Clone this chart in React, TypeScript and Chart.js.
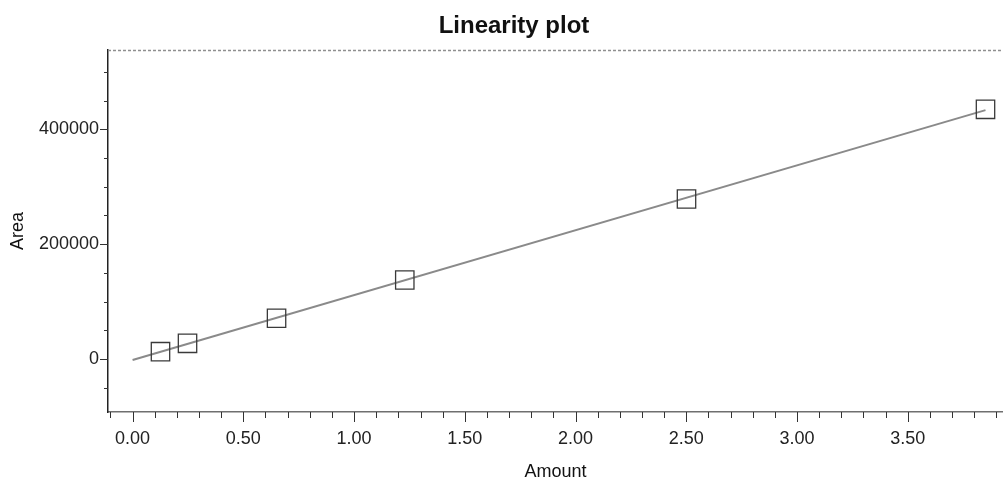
import React, { useEffect, useRef } from 'react';
import { Chart, registerables } from 'chart.js';

Chart.register(...registerables);

// ---- data ----
const TITLE = 'Linearity plot';
const X_TITLE = 'Amount';
const Y_TITLE = 'Area';

const amounts = [0.126, 0.248, 0.65, 1.229, 2.501, 3.851];
const areas = [12700, 27300, 70900, 137500, 278600, 434700];

// regression line end points (as drawn in the reference)
const fitAmounts = [0, 3.851];
const fitAreas = [-1800, 433300];

// axis ticks
const xMajorValues = [0, 0.5, 1, 1.5, 2, 2.5, 3, 3.5];
const xTickLabels = ['0.00', '0.50', '1.00', '1.50', '2.00', '2.50', '3.00', '3.50'];
const xMinorStep = 0.1;
const xTickFrom = -0.1;
const xTickCount = 41;

const yMajorValues = [0, 200000, 400000];
const yTickLabels = ['0', '200000', '400000'];
const yTickValues = [-50000, 0, 50000, 100000, 150000, 200000, 250000, 300000, 350000, 400000, 450000, 500000];

const X_MIN = -0.111;
const X_MAX = 3.93;
const Y_MIN = -92300;
const Y_MAX = 538000;

const FONT = '"Liberation Sans", Arial, Helvetica, sans-serif';

const xTickValues = Array.from({ length: xTickCount }, (_, i) =>
  Math.round((xTickFrom + i * xMinorStep) * 1000) / 1000
);

const majorIndex = (list: number[], v: number, tol: number) =>
  list.findIndex((m) => Math.abs(m - v) < tol);

const decorPlugin = {
  id: 'decor',
  afterDraw(chart: any) {
    const { ctx, chartArea: a, scales } = chart;
    const xs = scales.x;
    const ys = scales.y;
    ctx.save();
    // top frame line (dotted grey)
    ctx.strokeStyle = '#8f8f8f';
    ctx.lineWidth = 1.5;
    ctx.setLineDash([3, 2]);
    ctx.beginPath();
    ctx.moveTo(a.left, a.top + 0.5);
    ctx.lineTo(a.right, a.top + 0.5);
    ctx.stroke();
    ctx.setLineDash([]);

    // tick marks (major / minor)
    ctx.strokeStyle = '#333';
    ctx.lineWidth = 1;
    xs.ticks.forEach((t: any) => {
      const px = Math.round(xs.getPixelForValue(t.value)) + 0.5;
      const major = majorIndex(xMajorValues, t.value, 1e-6) >= 0;
      ctx.beginPath();
      ctx.moveTo(px, a.bottom);
      ctx.lineTo(px, a.bottom + (major ? 10 : 6));
      ctx.stroke();
    });
    ys.ticks.forEach((t: any) => {
      const py = Math.round(ys.getPixelForValue(t.value)) + 0.5;
      const major = majorIndex(yMajorValues, t.value, 1) >= 0;
      ctx.beginPath();
      ctx.moveTo(a.left, py);
      ctx.lineTo(a.left - (major ? 8 : 4), py);
      ctx.stroke();
    });

    // chart title
    ctx.fillStyle = '#111';
    ctx.font = `bold 24px ${FONT}`;
    ctx.textAlign = 'center';
    ctx.textBaseline = 'alphabetic';
    ctx.fillText(TITLE, 514, 33);
    ctx.restore();
  },
};

export default function App() {
  const ref = useRef<HTMLCanvasElement | null>(null);

  useEffect(() => {
    if (!ref.current) return;
    const chart = new Chart(ref.current, {
      type: 'scatter',
      data: {
        datasets: [
          {
            type: 'line',
            label: 'Fit',
            data: fitAmounts.map((x, i) => ({ x, y: fitAreas[i] })),
            borderColor: '#8a8a8a',
            borderWidth: 2,
            pointRadius: 0,
            fill: false,
            order: 2,
          } as any,
          {
            label: 'Standards',
            data: amounts.map((x, i) => ({ x, y: areas[i] })),
            pointStyle: 'rect',
            pointRadius: 13,
            pointHoverRadius: 13,
            borderColor: '#3a3a3a',
            backgroundColor: 'rgba(0,0,0,0)',
            borderWidth: 1.3,
            order: 1,
          },
        ],
      },
      options: {
        animation: false,
        responsive: false,
        layout: { autoPadding: false, padding: { top: 50, left: 0, right: 0, bottom: 0 } },
        plugins: {
          legend: { display: false },
          title: { display: false },
          tooltip: { enabled: false },
        },
        scales: {
          x: {
            type: 'linear',
            position: 'bottom',
            min: X_MIN,
            max: X_MAX,
            grid: { display: false, drawTicks: false },
            border: { display: true, color: '#6f6f6f', width: 1.5 },
            afterBuildTicks: (s: any) => {
              s.ticks = xTickValues.map((value) => ({ value }));
            },
            ticks: {
              autoSkip: false,
              maxRotation: 0,
              padding: 16,
              color: '#222',
              font: { family: FONT, size: 18 },
              callback: (v: any) => {
                const i = majorIndex(xMajorValues, Number(v), 1e-6);
                return i >= 0 ? xTickLabels[i] : '';
              },
            },
            title: {
              display: true,
              text: X_TITLE,
              color: '#111',
              font: { family: FONT, size: 18 },
              padding: { top: 0, bottom: 1 },
            },
            afterFit: (s: any) => {
              s.height = 72;
              s.paddingLeft = 0;
              s.paddingRight = 0;
            },
          },
          y: {
            type: 'linear',
            min: Y_MIN,
            max: Y_MAX,
            grid: { display: false, drawTicks: false },
            border: { display: true, color: '#222', width: 1.5 },
            afterBuildTicks: (s: any) => {
              s.ticks = yTickValues.map((value) => ({ value }));
            },
            ticks: {
              autoSkip: false,
              padding: 9,
              color: '#222',
              font: { family: FONT, size: 18 },
              callback: (v: any) => {
                const i = majorIndex(yMajorValues, Number(v), 1);
                return i >= 0 ? yTickLabels[i] : '';
              },
            },
            title: {
              display: true,
              text: Y_TITLE,
              color: '#111',
              font: { family: FONT, size: 18 },
              padding: { top: 7, bottom: 0 },
            },
            afterFit: (s: any) => {
              s.width = 108;
              s.paddingTop = 0;
              s.paddingBottom = 0;
            },
          },
        },
      },
      plugins: [decorPlugin],
    });
    return () => chart.destroy();
  }, []);

  return (
    <div style={{ position: 'absolute', left: 0, top: 0, width: 1003, height: 484, background: '#fff' }}>
      <canvas ref={ref} width={1003} height={484} style={{ display: 'block' }} />
    </div>
  );
}
